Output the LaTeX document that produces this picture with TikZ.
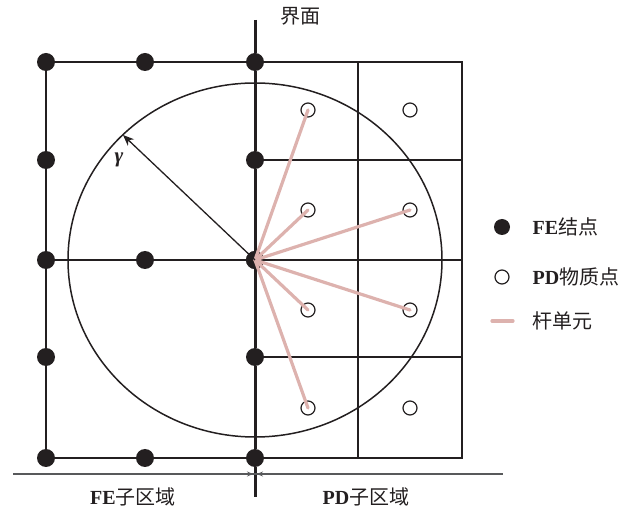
\documentclass[tikz,border=0pt]{standalone}
\usepackage{amsmath}
\usepackage{fontspec}
\setmainfont{Liberation Serif}
\newfontfamily\cjk{Noto Sans CJK SC}
\usepackage{tikz}
\usetikzlibrary{arrows.meta}
\definecolor{pdink}{HTML}{231F20}
\definecolor{pdpink}{HTML}{DDB2AE}
\definecolor{pdgray}{HTML}{58595B}
\tikzset{
  feNode/.style={circle, fill=pdink, inner sep=0pt, minimum size=18pt},
  keyNode/.style={circle, fill=pdink, inner sep=0pt, minimum size=16pt},
  pdPoint/.style={circle, draw=pdink, line width=1.2pt, fill=white, inner sep=0pt, minimum size=14pt},
  gridLine/.style={draw=pdink, line width=1.5pt},
  faceLine/.style={draw=pdink, line width=3pt},
  barLine/.style={draw=pdpink, line width=3.2pt, line cap=round},
  radArrow/.style={-{Stealth[length=11pt, width=9pt]}, draw=pdink, line width=1.3pt},
  dimLine/.style={draw=pdgray, line width=1.4pt},
  dimArrow/.style={-{Stealth[length=6pt, width=5pt]}, draw=pdgray, line width=1pt},
  capLabel/.style={font=\fontsize{20}{22}\selectfont, text=pdink},
  keyLabel/.style={font=\fontsize{20}{22}\selectfont, text=pdink, anchor=west}
}

\begin{document}
\begin{tikzpicture}[x=1pt, y=-1pt]
  \useasboundingbox (0,0) rectangle (633,513);

  \node[feNode] (tl) at (46,62) {};
  \node[feNode] (tm) at (145,62) {};
  \node[feNode] (ti) at (255,62) {};
  \node[feNode] (ul) at (46,160) {};
  \node[feNode] (ui) at (255,160) {};
  \node[feNode] (ml) at (46,260) {};
  \node[feNode] (mm) at (145,260) {};
  \node[feNode] (c) at (255,260) {};
  \node[feNode] (ll) at (46,357) {};
  \node[feNode] (li) at (255,357) {};
  \node[feNode] (bl) at (46,458) {};
  \node[feNode] (bm) at (145,458) {};
  \node[feNode] (bi) at (255,458) {};

  \coordinate (faceTop) at (255,20);
  \coordinate (faceBot) at (255,497);
  \coordinate (gTopMid) at (358,62);
  \coordinate (gTopEnd) at (462,62);
  \coordinate (gUpEnd) at (462,160);
  \coordinate (gMidEnd) at (462,260);
  \coordinate (gLowEnd) at (462,357);
  \coordinate (gBotEnd) at (462,458);
  \coordinate (gBotMid) at (358,458);
  \coordinate (rEnd) at (123,135);

  \draw[gridLine] (tl) -- (tm) -- (ti) -- (gTopEnd) -- (gBotEnd) -- (bi) -- (bm) -- (bl) -- (ll) -- (ml) -- (ul) -- (tl);
  \draw[gridLine] (gTopMid) -- (gBotMid);
  \draw[gridLine] (ui) -- (gUpEnd);
  \draw[gridLine] (ml) -- (mm) -- (c) -- (gMidEnd);
  \draw[gridLine] (li) -- (gLowEnd);
  \draw[gridLine] (c.center) ellipse[x radius=187, y radius=177];
  \draw[faceLine] (faceTop) -- (ti) -- (ui) -- (c) -- (li) -- (bi) -- (faceBot);
  \node[feNode] at (c) {};

  \node[pdPoint] (pa) at (308,110) {};
  \node[pdPoint] (pb) at (410,110) {};
  \node[pdPoint] (pc) at (308,210) {};
  \node[pdPoint] (pd) at (410,210) {};
  \node[pdPoint] (pe) at (308,310) {};
  \node[pdPoint] (pf) at (410,310) {};
  \node[pdPoint] (pg) at (308,408) {};
  \node[pdPoint] (ph) at (410,408) {};

  \draw[barLine] (c.center) -- (pa.center);
  \draw[barLine] (c.center) -- (pc.center);
  \draw[barLine] (c.center) -- (pd.center);
  \draw[barLine] (c.center) -- (pe.center);
  \draw[barLine] (c.center) -- (pf.center);
  \draw[barLine] (c.center) -- (pg.center);

  \draw[radArrow] (c.center) -- (rEnd);
  \node[text=pdink, font=\fontsize{21}{22}\selectfont\bfseries\itshape] (gam) at (119,160) {γ};

  \coordinate (dimL) at (13,474);
  \coordinate (dimR) at (503,474);
  \coordinate (dimA) at (240,474);
  \coordinate (dimB) at (270,474);
  \coordinate (dimAe) at (253,474);
  \coordinate (dimBe) at (257,474);
  \draw[dimLine] (dimL) -- (dimR);
  \draw[dimArrow] (dimA) -- (dimAe);
  \draw[dimArrow] (dimB) -- (dimBe);

  \node[capLabel] (face) at (300,16) {\cjk 界面};
  \node[capLabel] (feZone) at (133,497) {\textbf{FE}{\cjk 子区域}};
  \node[capLabel] (pdZone) at (366,497) {\textbf{PD}{\cjk 子区域}};

  \node[keyNode] (keyFe) at (502,227) {};
  \node[pdPoint] (keyPd) at (502,277) {};
  \coordinate (keyBarL) at (492,321);
  \coordinate (keyBarR) at (513,321);
  \draw[barLine] (keyBarL) -- (keyBarR);
  \node[keyLabel] (keyFeText) at (529,227) {\textbf{FE}{\cjk 结点}};
  \node[keyLabel] (keyPdText) at (529,277) {\textbf{PD}{\cjk 物质点}};
  \node[keyLabel] (keyBarText) at (529,321) {\cjk 杆单元};
\end{tikzpicture}
\end{document}
